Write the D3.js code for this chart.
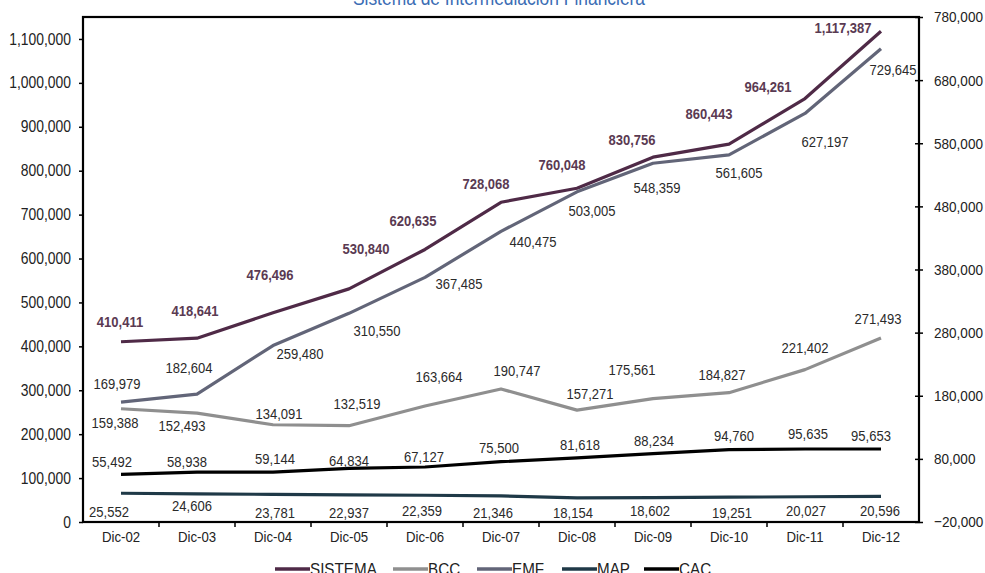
<!DOCTYPE html>
<html>
<head>
<meta charset="utf-8">
<script src="https://cdn.jsdelivr.net/npm/d3@7"></script>
<style>
  body { margin: 0; background: #fff; }
  svg text { font-family: "Liberation Sans", Arial, sans-serif; }
</style>
</head>
<body>
<div id="chart"></div>
<script>
// categories and series
var years = ["Dic-02", "Dic-03", "Dic-04", "Dic-05", "Dic-06", "Dic-07", "Dic-08", "Dic-09", "Dic-10", "Dic-11", "Dic-12"];
var sistema = [410411, 418641, 476496, 530840, 620635, 728068, 760048, 830756, 860443, 964261, 1117387];
var bcc = [159388, 152493, 134091, 132519, 163664, 190747, 157271, 175561, 184827, 221402, 271493];
var emf = [169979, 182604, 259480, 310550, 367485, 440475, 503005, 548359, 561605, 627197, 729645];
var map = [25552, 24606, 23781, 22937, 22359, 21346, 18154, 18602, 19251, 20027, 20596];
var cac = [55492, 58938, 59144, 64834, 67127, 75500, 81618, 88234, 94760, 95635, 95653];
var leftTicks = d3.range(0, 1100001, 100000);
var rightTicks = d3.range(-20000, 780001, 100000);

// label nudges (px) relative to each point, as Excel placed them
var nudge = {
  SISTEMA: { dx: [-1, -2, -3, 17, -12, -15, -15, -21, -20, -37, -38], dy: [-20, -28, -38, -40, -29, -19, -24, -18, -30, -12, -4] },
  EMF: { dx: [-4, -8, 27, 28, 34, 32, 15, 4, 10, 20, 12], dy: [-18, -26, 8, 17, 6, 10, 19, 24, 18, 28, 21] },
  BCC: { dx: [-6, -15, 6, 8, 14, 16, 13, -21, -7, 0, -3], dy: [14, 13, -11, -22, -29, -18, -16, -29, -18, -22, -19] },
  CAC: { dx: [-9, -10, 2, 0, -1, -2, 3, 1, 5, 3, -10], dy: [-13, -11, -13, -8, -10, -14, -13, -13, -14, -15, -13] },
  MAP: { dx: [-12, -5, 2, 0, -3, -8, -4, -3, 3, 1, -1], dy: [18, 12, 18, 18, 15, 17, 15, 13, 15, 14, 14] }
};

var width = 985, height = 573;
var m = { left: 83, right: 919, top: 17, bottom: 522 };
var squeezeX = 0.88; // the source picture is a bit narrower than tall

var svg = d3.select("#chart").append("svg")
    .attr("width", width)
    .attr("height", height);

var x = d3.scaleBand().domain(years).range([m.left, m.right]);
var yL = d3.scaleLinear().domain([0, 1150000]).range([m.bottom, m.top]);
var yR = d3.scaleLinear().domain([-20000, 780000]).range([m.bottom, m.top]);
var fmt = d3.format(",");

// move x/y into a transform so text can be squeezed around its anchor
function squeeze(sel) {
    sel.each(function() {
        var t = d3.select(this);
        var tx = +t.attr("x") || 0, ty = +t.attr("y") || 0;
        t.attr("x", 0).attr("y", 0)
         .attr("transform", "translate(" + tx + "," + ty + ") scale(" + squeezeX + ",1)");
    });
}

// title (cut off at the top)
svg.append("text")
    .attr("x", 499)
    .attr("y", 4.5)
    .attr("text-anchor", "middle")
    .attr("font-size", 19.8)
    .attr("fill", "#3b6db4")
    .text("Sistema de Intermediación Financiera")
    .call(squeeze);

// axes
var gl = svg.append("g")
    .attr("transform", "translate(" + m.left + ",0)")
    .call(d3.axisLeft(yL).tickValues(leftTicks).tickSize(4).tickPadding(8).tickFormat(fmt));
gl.select(".domain").remove();
gl.selectAll("text").attr("font-size", 15.8).attr("fill", "#222").call(squeeze);
gl.selectAll("line").attr("stroke", "#000").attr("stroke-width", 1.5);

var gr = svg.append("g")
    .attr("transform", "translate(" + m.right + ",0)")
    .call(d3.axisRight(yR).tickValues(rightTicks).tickSize(4).tickPadding(11).tickFormat(fmt));
gr.select(".domain").remove();
gr.selectAll("text").attr("font-size", 15.4).attr("fill", "#222").call(squeeze);
gr.selectAll("line").attr("x1", -4).attr("stroke", "#000").attr("stroke-width", 1.5);

var gx = svg.append("g")
    .attr("transform", "translate(0," + m.bottom + ")")
    .call(d3.axisBottom(x).tickSize(0).tickPadding(9));
gx.select(".domain").remove();
gx.selectAll("text").attr("font-size", 15).attr("fill", "#222").call(squeeze);
// tick marks at category boundaries
gx.selectAll(".bound")
    .data(years.slice(1))
    .enter().append("line")
    .attr("class", "bound")
    .attr("x1", function(d) { return x(d); })
    .attr("x2", function(d) { return x(d); })
    .attr("y1", 0).attr("y2", 5)
    .attr("stroke", "#000").attr("stroke-width", 1.5);

// plot frame
svg.append("rect")
    .attr("x", m.left).attr("y", m.top)
    .attr("width", m.right - m.left).attr("height", m.bottom - m.top)
    .attr("fill", "none")
    .attr("stroke", "#000")
    .attr("stroke-width", 2.2);

var series = [
    { name: "SISTEMA", values: sistema, y: yL, color: "#4f2a47", text: "#5a3a52", bold: true },
    { name: "BCC", values: bcc, y: yR, color: "#8f8f8f", text: "#2a2a2a" },
    { name: "EMF", values: emf, y: yR, color: "#626578", text: "#2a2a2a" },
    { name: "MAP", values: map, y: yR, color: "#1f3947", text: "#2a2a2a" },
    { name: "CAC", values: cac, y: yR, color: "#000000", text: "#2a2a2a" }
];

var cx = function(i) { return x(years[i]) + x.bandwidth() / 2; };

series.forEach(function(s) {
    var line = d3.line()
        .x(function(d, i) { return cx(i); })
        .y(function(d) { return s.y(d); });

    svg.append("path")
        .datum(s.values)
        .attr("d", line)
        .attr("fill", "none")
        .attr("stroke", s.color)
        .attr("stroke-width", 3.2)
        .attr("stroke-linejoin", "round");
});

// data labels drawn after all lines
series.forEach(function(s) {
    var nd = nudge[s.name];
    svg.append("g").selectAll("text")
        .data(s.values)
        .enter().append("text")
        .attr("x", function(d, i) { return cx(i) + nd.dx[i]; })
        .attr("y", function(d, i) { return s.y(d) + nd.dy[i]; })
        .attr("dy", "0.36em")
        .attr("text-anchor", "middle")
        .attr("font-size", 14.8)
        .attr("font-weight", s.bold ? "bold" : "normal")
        .attr("fill", s.text)
        .text(function(d) { return fmt(d); })
        .call(squeeze);
});

// legend
var legendX = [275, 393, 477, 562, 644];
var lg = svg.append("g").attr("transform", "translate(0,569)");
var item = lg.selectAll("g")
    .data(series)
    .enter().append("g")
    .attr("transform", function(d, i) { return "translate(" + legendX[i] + ",0)"; });
item.append("line")
    .attr("x1", 0).attr("x2", 35)
    .attr("stroke", function(d) { return d.color; })
    .attr("stroke-width", 3.5);
item.append("text")
    .attr("x", 35)
    .attr("y", 6)
    .attr("font-size", 17.3)
    .attr("fill", "#222")
    .text(function(d) { return d.name; })
    .call(squeeze);
</script>
</body>
</html>
